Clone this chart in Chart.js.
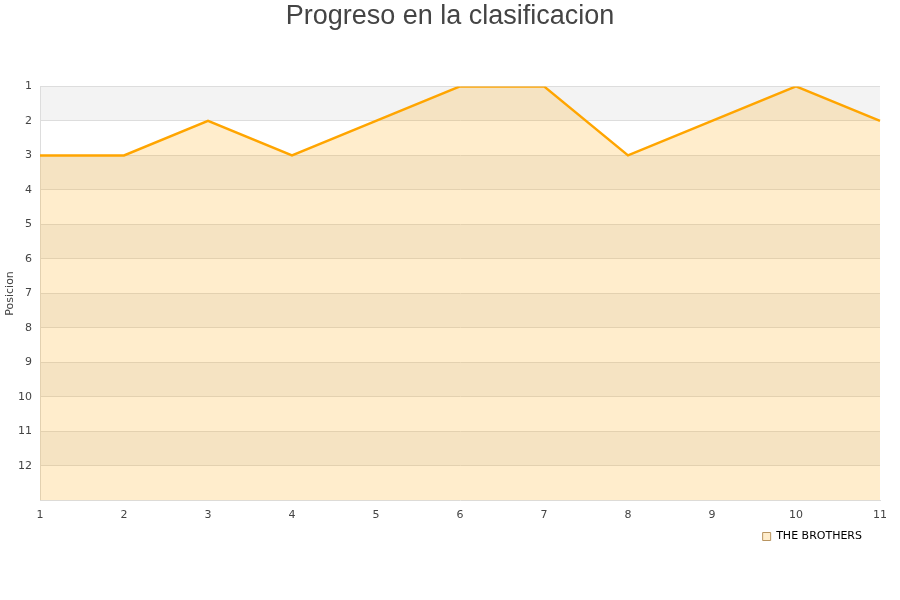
<!DOCTYPE html>
<html>
<head>
<meta charset="utf-8">
<script src="https://cdn.jsdelivr.net/npm/chart.js@4/dist/chart.umd.min.js"></script>
<style>
html,body{margin:0;padding:0;background:#fff;}
#wrap{width:900px;height:600px;}
</style>
</head>
<body>
<div id="wrap"><canvas id="c" width="900" height="600"></canvas></div>
<script>
const rounds = ['1','2','3','4','5','6','7','8','9','10','11'];
const positions = [3,3,2,3,2,1,1,3,2,1,2];
const teamName = 'THE BROTHERS';
const yTickValues = [1,2,3,4,5,6,7,8,9,10,11,12];
const chartTitle = 'Progreso en la clasificacion';
const yTitle = 'Posicion';

const bandPlugin = {
  id: 'bands',
  afterLayout(chart) {
    if (chart.legend) { chart.legend.right -= 11.5; }
  },
  beforeDraw(chart) {
    const {ctx, chartArea, scales} = chart;
    const y = scales.y;
    ctx.save();
    ctx.fillStyle = '#f3f3f3';
    for (let v = 1; v < 13; v += 2) {
      const p1 = y.getPixelForValue(v);
      const p2 = y.getPixelForValue(v + 1);
      ctx.fillRect(chartArea.left, p1, chartArea.right - chartArea.left, p2 - p1);
    }
    ctx.restore();
  }
};

new Chart(document.getElementById('c'), {
  type: 'line',
  data: {
    labels: rounds,
    datasets: [{
      label: teamName,
      data: positions,
      borderColor: '#ffa500',
      backgroundColor: 'rgba(255,165,0,0.2)',
      borderWidth: 2.5,
      pointRadius: 0,
      tension: 0,
      fill: 'start'
    }]
  },
  options: {
    responsive: false,
    animation: false,
    layout: {padding: {left: 0, right: 0, top: 0, bottom: 48}},
    plugins: {
      title: {
        display: true,
        text: chartTitle,
        color: '#444',
        font: {family: 'Liberation Sans', size: 27, weight: 'normal'},
        padding: {top: 0, bottom: 54}
      },
      legend: {
        position: 'bottom',
        align: 'end',
        fullSize: false,
        labels: {
          boxWidth: 8,
          boxHeight: 8,
          color: '#000',
          font: {family: 'DejaVu Sans', size: 11},
          padding: 6.5,
          generateLabels(chart) {
            return chart.data.datasets.map((ds, i) => ({
              text: ds.label,
              fillStyle: '#ffedcc',
              strokeStyle: '#b89460',
              lineWidth: 1,
              datasetIndex: i,
              fontColor: '#000'
            }));
          }
        }
      },
      tooltip: {enabled: false}
    },
    scales: {
      x: {
        type: 'category',
        offset: false,
        grid: {display: false, drawTicks: false},
        border: {display: true, color: '#ddd'},
        ticks: {color: '#444', font: {family: 'DejaVu Sans', size: 11}, padding: 8, maxRotation: 0},
        afterFit(s) { s.height = 24; }
      },
      y: {
        type: 'linear',
        reverse: true,
        min: 1,
        max: 13,
        afterBuildTicks(s) { s.ticks = yTickValues.map(v => ({value: v})); },
        grid: {color: '#ddd', drawTicks: false},
        border: {display: true, color: '#ddd'},
        ticks: {color: '#444', font: {family: 'DejaVu Sans', size: 11}, padding: 8},
        title: {display: true, text: yTitle, color: '#444', font: {family: 'DejaVu Sans', size: 11}, padding: {top: 4, bottom: 0}},
        afterFit(s) { s.width = 40; }
      },
      yr: {
        type: 'linear',
        position: 'right',
        display: true,
        grid: {display: false},
        border: {display: false},
        ticks: {display: false},
        afterFit(s) { s.width = 20; }
      }
    }
  },
  plugins: [bandPlugin]
});
</script>
</body>
</html>
